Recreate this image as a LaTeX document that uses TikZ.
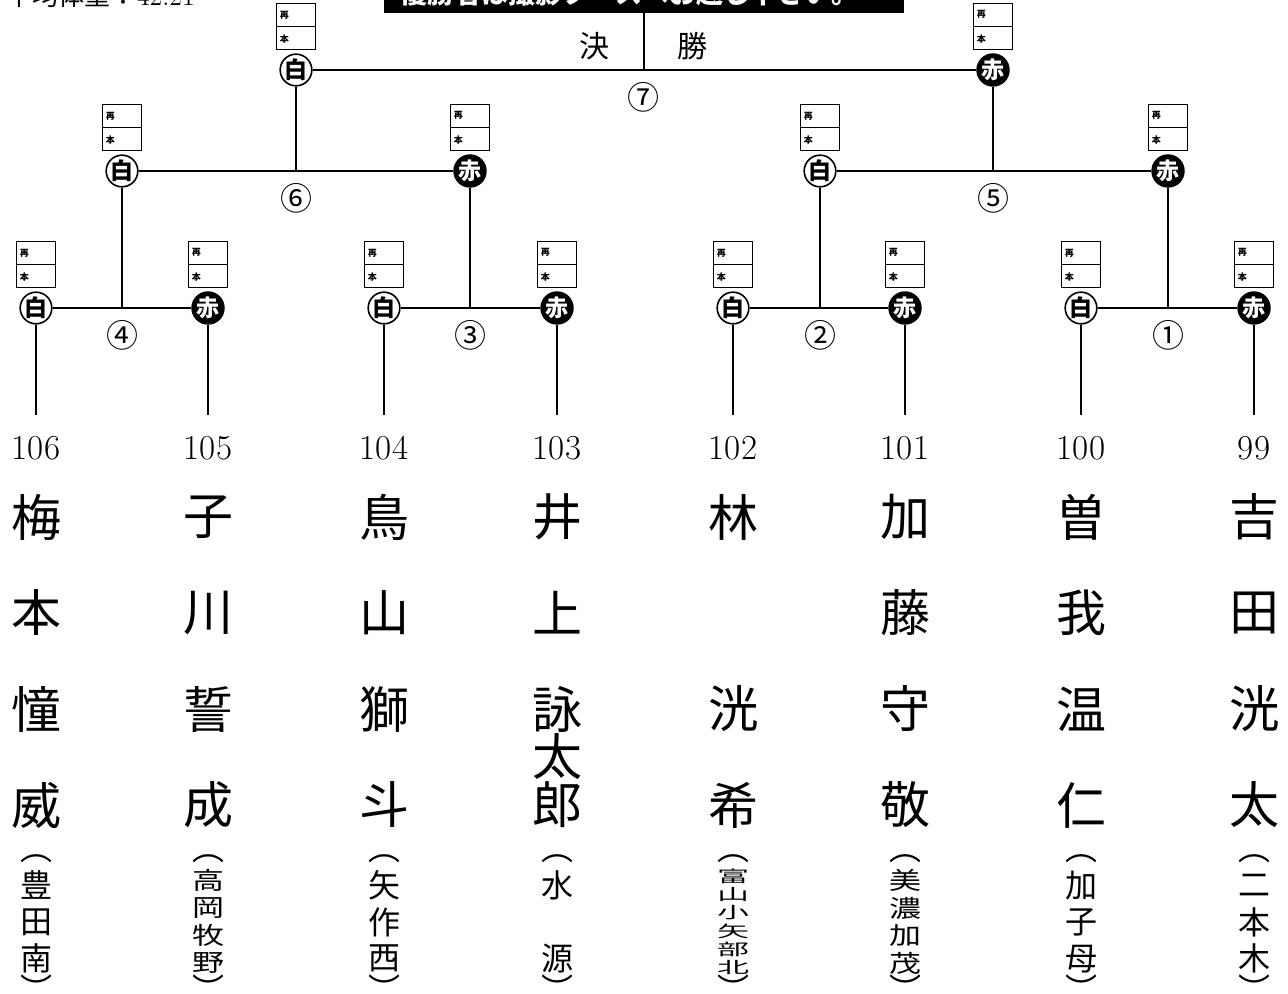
\documentclass[tikz,border=0pt]{standalone}
\usepackage{fontspec}
\usepackage{tikz}
\usetikzlibrary{positioning}
\newfontfamily\jp{Noto Sans CJK JP}

\begin{document}
\begin{tikzpicture}[x=0.5pt,y=-0.5pt,line width=0.8pt,
  every node/.style={inner sep=0pt},
  shiro/.style={circle,draw,fill=white,minimum size=14.5pt,font=\jp\bfseries\fontsize{11.5}{11.5}\selectfont},
  aka/.style={shiro,fill=black,text=white},
  hanbox/.style={draw,line width=0.5pt,minimum width=19.5pt,minimum height=23pt},
  hantxt/.style={anchor=west,font=\jp\bfseries\fontsize{4.5}{4.5}\selectfont},
  matchno/.style={font=\jp\fontsize{16}{16}\selectfont},
  numtxt/.style={anchor=base,font=\fontsize{17.5}{17.5}\selectfont},
  namech/.style={font=\jp\fontsize{25}{25}\selectfont},
  schoolch/.style={font=\jp\fontsize{16}{16}\selectfont}]
  \useasboundingbox (0,0) rectangle (1288,994);
  \clip (0,0) rectangle (1288,994);

  \node[anchor=base west,font=\fontsize{13}{13}\selectfont] (avg) at (6,6) {{\jp 平均体重：}42.21};
  \node[anchor=south west,fill=black,text=white,inner xsep=8.5pt,inner ysep=3pt,
    text width=243pt,align=left,font=\jp\bfseries\fontsize{13.5}{13.5}\selectfont]
    (ban) at (383,13.5) {優勝者は撮影ブースへお越し下さい。};
  \node[font=\jp\fontsize{15}{15}\selectfont] (ketsu) at (594,46) {決};
  \node[font=\jp\fontsize{15}{15}\selectfont] (sho) at (692,46) {勝};

  \node[shiro] (W7) at (296,70) {白};
  \node[aka] (R7) at (993,70) {赤};
  \node[shiro] (W6) at (122,171) {白};
  \node[aka] (R6) at (470,171) {赤};
  \node[shiro] (W5) at (820,171) {白};
  \node[aka] (R5) at (1168,171) {赤};
  \foreach \m/\xw/\xr in {4/36/208,3/384/557,2/733/905,1/1081/1254}{
    \node[shiro] (W\m) at (\xw,308) {白};
    \node[aka] (R\m) at (\xr,308) {赤};
  }
  \foreach \c in {W1,R1,W2,R2,W3,R3,W4,R4,W5,R5,W6,R6,W7,R7}{
    \node[hanbox,above=1.5pt of \c] (\c b) {};
    \draw[line width=0.5pt] (\c b.west) -- (\c b.east);
    \node[hantxt] at ([xshift=1.5pt,yshift=-5.75pt]\c b.north west) {再};
    \node[hantxt] at ([xshift=1.5pt,yshift=5.75pt]\c b.south west) {本};
  }

  \coordinate (m7) at (ban |- W7);
  \coordinate (m6) at (W7 |- W6);
  \coordinate (m5) at (R7 |- W5);
  \coordinate (m4) at (W6 |- W4);
  \coordinate (m3) at (R6 |- W3);
  \coordinate (m2) at (W5 |- W2);
  \coordinate (m1) at (R5 |- W1);
  \draw (W7) -- (R7);
  \draw (ban) -- (m7);
  \draw (W6) -- (R6);
  \draw (W7) -- (m6);
  \draw (W5) -- (R5);
  \draw (R7) -- (m5);
  \foreach \m/\up in {4/W6,3/R6,2/W5,1/R5}{
    \draw (W\m) -- (R\m);
    \draw (\up) -- (m\m);
  }
  \foreach \m/\g in {1/①,2/②,3/③,4/④,5/⑤,6/⑥,7/⑦}
    \node[matchno] (no\m) at ([yshift=-13.5pt]m\m) {\g};

  \foreach \c/\x/\n [count=\i] in {W4/36/106,R4/208/105,W3/384/104,R3/557/103,W2/733/102,R2/905/101,W1/1081/100,R1/1254/99}{
    \node[numtxt] (n\i) at (\x,459) {\n};
    \draw[shorten >=10pt] (\c) -- (n\i);
  }

  \coordinate (row1) at (0,517);
  \coordinate (row2) at (0,613);
  \coordinate (row3) at (0,709);
  \coordinate (row3b) at (0,757);
  \coordinate (row4) at (0,805);
  \foreach \ch [count=\i] in {梅,子,鳥,井,林,加,曽,吉}
    \node[namech] (a\i) at (n\i |- row1) {\ch};
  \foreach \i/\ch in {1/本,2/川,3/山,4/上,6/藤,7/我,8/田}
    \node[namech] (b\i) at (n\i |- row2) {\ch};
  \foreach \ch [count=\i] in {憧,誓,獅,詠,洸,守,温,洸}
    \node[namech] (c\i) at (n\i |- row3) {\ch};
  \node[namech] (c4b) at (n4 |- row3b) {太};
  \foreach \ch [count=\i] in {威,成,斗,郎,希,敬,仁,太}
    \node[namech] (d\i) at (n\i |- row4) {\ch};

  \foreach \x/\k/\sch [count=\i] in {36/3/{豊,田,南},208/4/{高,岡,牧,野},384/3/{矢,作,西},557/3/{水,　,源},
      733/6/{富,山,小,矢,部,北},905/4/{美,濃,加,茂},1081/3/{加,子,母},1254/3/{二,本,木}}{
    \node[schoolch] (p\i) at (\x,859) {︵};
    \node[schoolch] (q\i) at (\x,988) {︶};
    \pgfmathsetmacro\pitch{110/\k}
    \pgfmathsetmacro\sy{min(1,\pitch/36.7)}
    \foreach \ch [count=\j] in \sch
      \node[schoolch] (s\i-\j) at (\x,{867+\pitch*(\j-0.5)}) {\scalebox{1}[\sy]{\ch}};
  }
\end{tikzpicture}
\end{document}
